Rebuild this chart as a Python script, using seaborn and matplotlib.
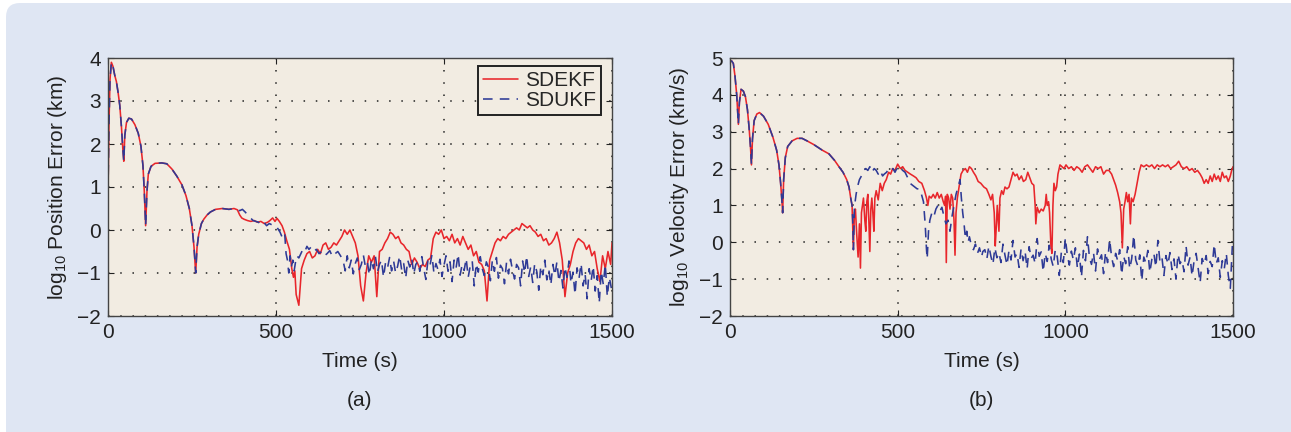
import numpy as np
import pandas as pd
import matplotlib
matplotlib.use("Agg")
import matplotlib.pyplot as plt
import matplotlib.patches as mpatches
from matplotlib.transforms import IdentityTransform
import seaborn as sns

# ---------------- data ----------------
# Panel (a): log10 position error
a_shared_t = [0, 3, 6, 10, 15, 20, 25, 30, 35, 40, 44, 47, 50, 55, 62, 70, 80, 90, 98, 104,
              108, 112, 116, 120, 128, 140, 160, 175, 190, 205, 220, 232, 242, 250, 256, 261,
              265, 270, 278, 285, 295, 305, 320, 340, 360, 375, 385]
a_shared_v = [0.9, 2.5, 3.5, 3.9, 3.8, 3.6, 3.45, 3.2, 2.9, 2.4, 1.9, 1.6, 2.2, 2.5, 2.6, 2.58,
              2.45, 2.25, 1.95, 1.5, 0.9, 0.1, 0.9, 1.3, 1.48, 1.55, 1.56, 1.54, 1.42, 1.25, 1.05,
              0.8, 0.5, 0.1, -0.4, -1.0, -0.4, -0.1, 0.15, 0.25, 0.35, 0.42, 0.48, 0.5, 0.48,
              0.5, 0.47]

ekf_a_t = [392, 398, 405, 415, 425, 435, 445, 455, 465, 475, 482, 490, 497, 503, 510, 518,
           525, 532, 540, 547, 552, 556,
           560, 568, 576, 584, 592, 600, 608, 616, 624, 632, 640, 648, 656, 664, 672, 680,
           688, 696, 704, 712, 720, 728, 736, 744, 752, 760, 768, 776, 784, 792, 800, 808,
           816, 824, 832, 840, 848, 856, 864, 872, 880, 888, 896, 904, 912, 920, 928, 936,
           944, 952, 960, 968, 976, 984, 992, 1000, 1008, 1016, 1024, 1032, 1040, 1048, 1056,
           1064, 1072, 1080, 1088, 1096, 1104, 1112, 1120, 1128, 1136, 1144, 1152, 1160, 1168,
           1176, 1184, 1192, 1200, 1208, 1216, 1224, 1232, 1240, 1248, 1256, 1264, 1272, 1280,
           1288, 1296, 1304, 1312, 1320, 1328, 1336, 1344, 1352, 1360, 1368, 1376, 1384, 1392,
           1400, 1408, 1416, 1424, 1432, 1440, 1448, 1456, 1464, 1472, 1480, 1488, 1496, 1500]
ekf_a_v = [0.35, 0.28, 0.25, 0.22, 0.2, 0.22, 0.18, 0.2, 0.15, 0.18, 0.22, 0.28, 0.2, 0.27,
           0.2, 0.1, -0.05, -0.25, -0.45, -0.9, -1.1, -0.95,
           -1.5, -1.75, -0.9, -0.7, -0.55, -0.5, -0.65, -0.6, -0.45, -0.55, -0.35, -0.3, -0.45,
           -0.4, -0.3, -0.35, -0.25, -0.15, 0.0, -0.1, 0.0, -0.15, -0.3, -0.6, -1.3, -1.65,
           -1.0, -0.6, -0.75, -0.6, -1.55, -0.5, -0.45, -0.3, -0.2, -0.05, -0.1, -0.2, -0.15,
           -0.3, -0.35, -0.45, -0.5, -0.8, -0.65, -0.75, -0.9, -0.8, -0.85, -0.7, -0.65, -0.2,
           -0.05, -0.1, 0.0, -0.2, -0.15, -0.25, -0.1, -0.3, -0.2, -0.35, -0.15, -0.3, -0.45,
           -0.35, -0.6, -0.5, -0.75, -0.8, -0.95, -1.65, -0.7, -0.5, -0.3, -0.2, -0.25, -0.15,
           -0.2, -0.1, -0.05, 0.0, 0.05, 0.0, 0.15, 0.1, 0.05, 0.1, 0.0, -0.05, -0.15, -0.1,
           -0.25, -0.2, -0.35, -0.3, -0.2, -0.05, -0.3, -0.7, -1.55, -1.0, -0.8, -0.5, -0.3,
           -0.2, -0.25, -0.3, -0.45, -0.35, -0.6, -0.5, -0.9, -1.2, -0.6, -0.9, -0.5, -0.8, -0.3]

ukf_a_t = [392, 400, 408, 416, 424, 432, 440, 448, 456, 464, 472, 480, 488, 496, 504, 512,
           520, 526, 530, 534, 538, 542, 546, 550, 554, 558, 562, 568, 574, 580, 586, 592,
           598, 604, 612, 620, 628, 636, 644, 652, 660, 668, 676, 684, 692]
ukf_a_v = [0.45, 0.48, 0.42, 0.35, 0.28, 0.22, 0.2, 0.18, 0.12, 0.18, 0.1, 0.15, 0.12, 0.05,
           0.05, -0.05, -0.2, -0.1, -0.55, -0.7, -1.0, -0.6, -0.85, -0.7, -0.95, -0.75, -0.6,
           -0.65, -0.55, -0.45, -0.5, -0.38, -0.45, -0.4, -0.5, -0.45, -0.55, -0.5, -0.6,
           -0.55, -0.48, -0.62, -0.55, -0.5, -0.6]
# SDUKF, t = 700 .. 1498 every 6 s
ukf_a_tail = [
    -0.72, -0.95, -0.60, -0.88, -0.70, -1.02, -0.78, -0.65, -0.92, -0.80,
    -0.58, -0.85, -0.75, -1.05, -0.68, -0.90, -0.62, -0.98, -0.80, -0.70,
    -1.10, -0.76, -0.88, -0.64, -0.95, -0.72, -1.00, -0.84, -0.60, -0.93,
    -0.78, -1.12, -0.70, -0.86, -0.66, -1.02, -0.80, -0.74, -0.96, -0.62,
    -0.90, -1.15, -0.72, -0.84, -0.58, -1.00, -0.78, -0.92, -0.68, -1.08,
    -0.82, -0.60, -0.96, -0.74, -1.20, -0.70, -0.88, -0.56, -1.05, -0.80,
    -0.94, -0.66, -1.10, -0.84, -0.72, -1.30, -0.78, -0.98, -0.62, -0.90,
    -1.06, -0.74, -0.86, -1.18, -0.70, -0.96, -0.64, -1.12, -0.82, -0.90,
    -1.25, -0.76, -1.02, -0.68, -0.94, -1.14, -0.80, -0.88, -1.30, -0.72,
    -1.00, -0.60, -1.08, -0.86, -1.22, -0.78, -0.96, -1.40, -0.84, -1.04,
    -0.70, -1.16, -0.92, -1.28, -0.80, -1.06, -0.74, -1.20, -0.94, -1.35,
    -0.86, -1.10, -0.72, -1.24, -0.98, -1.50, -0.88, -1.12, -0.78, -1.30,
    -1.02, -1.60, -0.90, -1.18, -0.84, -1.42, -1.06, -1.70, -0.96, -1.26,
    -0.80, -1.55, -1.10, -1.35]

# Panel (b): log10 velocity error
b_shared_t = [0, 5, 10, 15, 20, 23, 25, 28, 33, 40, 46, 52, 57, 61, 64, 67, 72, 80, 88, 100,
              114, 128, 139, 146, 151, 155, 157, 160, 165, 172, 185, 200, 215, 230, 250, 275,
              295, 312, 325, 337, 348, 355, 360, 364]
b_shared_v = [4.9, 4.92, 4.85, 4.5, 4.0, 3.5, 3.2, 3.8, 4.15, 4.1, 3.95, 3.6, 3.1, 2.6, 2.1,
              2.8, 3.3, 3.48, 3.52, 3.42, 3.2, 2.85, 2.5, 2.1, 1.6, 1.1, 0.8, 1.7, 2.3, 2.6,
              2.75, 2.82, 2.82, 2.75, 2.65, 2.5, 2.4, 2.22, 2.05, 1.9, 1.7, 1.5, 1.2, 1.0]

ekf_b_t = [368, 371, 374, 378, 382, 386, 389, 392, 398, 402, 405, 408, 411, 414, 417, 420,
           423, 426, 429, 432, 436, 442, 448, 454, 460, 466, 473, 479, 485, 492, 500, 508,
           515, 522, 530, 538, 547, 555, 563, 572, 580, 586, 590, 594, 600, 606, 612, 618,
           624, 630, 636, 640, 643, 645, 648, 652, 656, 660, 664, 668, 671, 674, 678, 683,
           689, 695, 702, 708, 714, 720, 726, 733, 740, 748, 757, 765, 772, 778, 783, 788,
           791, 794, 797, 802, 805, 810, 815, 820, 826, 832, 838, 844, 850, 856, 862, 869,
           875, 882, 888, 894, 900, 906, 910, 912, 916, 922, 928, 934, 940, 943, 946, 950,
           953, 957, 960, 963, 966, 970, 974, 978, 984, 990, 996, 1002, 1010, 1018, 1026,
           1034, 1042, 1050, 1058, 1066, 1074, 1082, 1090, 1098, 1106, 1114, 1122, 1130,
           1138, 1144, 1150, 1156, 1162, 1166, 1170, 1174, 1178, 1182, 1186, 1190, 1194,
           1197, 1202, 1208, 1214, 1220, 1226, 1234, 1242, 1250, 1258, 1266, 1274, 1282,
           1290, 1298, 1306, 1314, 1322, 1330, 1338, 1346, 1354, 1362, 1370, 1378, 1386,
           1394, 1402, 1408, 1414, 1420, 1426, 1432, 1438, 1444, 1450, 1456, 1462, 1468,
           1474, 1480, 1486, 1492, 1496, 1500]
ekf_b_v = [-0.2, 0.8, 0.9, 0.2, -0.4, 0.5, -0.7, 0.8, 1.2, 0.6, 0.3, 1.1, 1.3, 0.6, -0.25,
           0.9, 1.2, 0.8, 0.3, 1.2, 1.4, 1.15, 1.6, 1.4, 1.6, 1.7, 1.9, 1.85, 2.0, 1.95, 2.12,
           2.0, 2.05, 1.95, 1.9, 1.85, 1.8, 1.75, 1.65, 1.6, 1.4, 1.2, 1.0, 1.25, 1.2, 1.3,
           1.2, 1.35, 1.2, 1.3, 1.1, 1.0, 1.25, -0.55, 1.3, 1.2, 0.9, 1.3, 1.2, 0.6, -0.35,
           0.8, 1.2, 1.5, 1.85, 1.95, 2.0, 1.9, 2.05, 2.0, 1.9, 1.8, 1.65, 1.6, 1.5, 1.45,
           1.3, 1.15, 1.3, 0.8, -0.1, 0.4, 1.0, 0.3, 1.2, 1.4, 1.3, 1.5, 1.45, 1.5, 1.7, 1.9,
           1.8, 1.85, 1.7, 1.8, 1.65, 1.7, 1.9, 1.75, 1.6, 1.55, 1.0, 0.5, 0.95, 0.8, 0.9,
           0.85, 1.0, 1.3, 1.0, 1.1, 0.8, -0.1, -0.3, 1.0, 1.6, 1.4, 1.5, 1.85, 2.1, 2.05,
           2.0, 2.1, 2.0, 2.05, 1.95, 2.05, 2.0, 1.9, 2.05, 2.1, 2.0, 1.9, 2.05, 2.0, 2.05,
           1.85, 1.95, 1.95, 1.85, 1.7, 1.55, 1.35, 1.1, 0.8, -0.15, 0.9, 1.1, 1.35, 1.1, 1.3,
           0.5, 1.2, 1.1, 1.3, 1.6, 1.9, 2.1, 2.05, 2.1, 2.05, 2.1, 2.0, 2.1, 2.05, 2.1, 2.05,
           2.1, 2.0, 2.05, 2.1, 2.2, 2.05, 2.0, 2.05, 1.95, 2.0, 1.9, 1.95, 1.85, 1.75, 1.6,
           1.7, 1.6, 1.8, 1.65, 1.85, 1.7, 1.8, 1.65, 1.9, 1.75, 1.8, 1.65, 1.8, 1.95, 2.05]

ukf_b_t = [366, 368, 371, 376, 380, 386, 392, 398, 405, 411, 417, 423, 430, 436, 442, 448,
           455, 460, 467, 473, 480, 486, 492, 500, 508, 515, 522, 530, 537, 544, 551, 558,
           565, 571, 577, 582, 586, 588, 592, 596, 602, 608, 614, 620, 626, 632, 638, 644,
           650, 656, 662, 668, 674, 680, 686, 690, 694, 698, 702, 706, 710, 714, 720, 726,
           732, 738, 744, 750, 754]
ukf_b_v = [0.6, -0.2, 0.95, 1.3, 1.5, 1.7, 1.8, 1.95, 2.0, 1.95, 2.05, 1.9, 2.0, 1.95, 1.85,
           1.95, 1.8, 1.85, 1.9, 2.0, 1.95, 2.0, 1.9, 2.05, 2.0, 1.95, 1.9, 1.75, 1.6, 1.55,
           1.5, 1.45, 1.45, 1.3, 1.1, 0.5, -0.2, -0.45, 0.3, 0.6, 0.8, 0.7, 0.9, 1.0, 0.85,
           0.95, 0.7, 0.5, 0.6, 0.3, 0.7, 1.0, 1.3, 1.5, 1.7, 1.2, 0.8, 0.5, 0.1, 0.3, 0.0,
           0.15, -0.1, -0.2, -0.05, -0.3, -0.15, -0.4, -0.25]
# SDUKF, t = 760 .. 1498 every 6 s
ukf_b_tail = [
    -0.20, -0.45, -0.10, -0.38, -0.60, -0.15, -0.42, -0.28, -0.55, -0.05,
    -0.35, -0.62, -0.22, -0.48, 0.05, -0.40, -0.30, -0.68, -0.18, -0.50,
    -0.25, -0.72, -0.12, -0.44, -0.35, -0.58, 0.10, -0.38, -0.26, -0.80,
    -0.30, -0.52, -0.08, -0.46, -0.66, -0.20, -0.40, -0.90, -0.28, -0.55,
    0.12, -0.36, -0.62, -0.24, -0.48, -0.15, -0.70, -0.32, -0.95, -0.22,
    -0.50, 0.15, -0.42, -0.60, -0.28, -0.78, -0.18, -0.46, -0.34, -0.85,
    -0.26, -0.55, 0.08, -0.40, -0.66, -0.30, -0.50, -0.20, -0.88, -0.38,
    -0.58, -0.12, -0.72, -0.44, 0.20, -0.48, -0.64, -0.34, -1.05, -0.40,
    -0.56, -0.22, -0.82, -0.46, -0.30, -0.68, 0.05, -0.52, -0.40, -0.90,
    -0.36, -0.60, -0.28, -0.74, -0.45, -1.00, -0.32, -0.58, -0.48, -0.80,
    -0.10, -0.62, -0.40, -0.92, -0.50, -0.30, -0.70, -1.10, -0.44, -0.60,
    -0.36, -0.85, -0.52, -0.66, -0.05, -0.58, -0.42, -0.95, -0.50, -0.72,
    -0.30, -0.90, -1.25, -0.10]

series_names = ["SDEKF", "SDUKF"]
x_ticks = [0, 500, 1000, 1500]
ya_ticks = [-2, -1, 0, 1, 2, 3, 4]
yb_ticks = [-2, -1, 0, 1, 2, 3, 4, 5]


def build(shared_t, shared_v, ekf_t, ekf_v, ukf_t, ukf_v, tail_start, tail):
    tail_t = list(range(tail_start, tail_start + 6 * len(tail), 6))
    et = list(shared_t) + list(ekf_t)
    ev = list(shared_v) + list(ekf_v)
    ut = list(shared_t) + list(ukf_t) + tail_t
    uv = list(shared_v) + list(ukf_v) + list(tail)
    n1 = min(len(et), len(ev)); n2 = min(len(ut), len(uv))
    df1 = pd.DataFrame({"t": et[:n1], "v": ev[:n1], "Filter": series_names[0]})
    df2 = pd.DataFrame({"t": ut[:n2], "v": uv[:n2], "Filter": series_names[1]})
    return pd.concat([df1, df2], ignore_index=True)


df_a = build(a_shared_t, a_shared_v, ekf_a_t, ekf_a_v, ukf_a_t, ukf_a_v, 700, ukf_a_tail)
df_b = build(b_shared_t, b_shared_v, ekf_b_t, ekf_b_v, ukf_b_t, ukf_b_v, 760, ukf_b_tail)

# ---------------- style ----------------
sns.set_theme(style="ticks")
plt.rcParams["font.family"] = ["Liberation Sans", "DejaVu Sans"]
plt.rcParams["mathtext.fontset"] = "custom"
plt.rcParams["mathtext.rm"] = "Liberation Sans"
plt.rcParams["axes.unicode_minus"] = True

RED = "#e8262b"
BLUE = "#2e3a96"
AX_BG = "#f2ece2"
FIG_BG = "#dfe6f3"
TXT = "#222222"
FS = 15
palette = {"SDEKF": RED, "SDUKF": BLUE}
dashes = {"SDEKF": "", "SDUKF": (6, 4.5)}

W, H = 1291, 432
fig = plt.figure(figsize=(W / 100, H / 100), dpi=100)
fig.patch.set_facecolor("white")
bg = mpatches.FancyBboxPatch((6, -30), W + 40, H - 3 + 30,
                             boxstyle="round,pad=0,rounding_size=14",
                             transform=IdentityTransform(), facecolor=FIG_BG,
                             edgecolor="none", zorder=-10)
fig.patches.append(bg)


def px_axes(left, top, right, bottom):
    return fig.add_axes([left / W, 1 - bottom / H, (right - left) / W, (bottom - top) / H])


ax_a = px_axes(108, 58, 612, 316)
ax_b = px_axes(730, 58, 1233, 316)

for ax, df, yt, ylab, panel, cx in [
        (ax_a, df_a, ya_ticks, r"log$_{\mathregular{10}}$ Position Error (km)", "(a)", 360),
        (ax_b, df_b, yb_ticks, r"log$_{\mathregular{10}}$ Velocity Error (km/s)", "(b)", 981)]:
    sns.lineplot(data=df, x="t", y="v", hue="Filter", style="Filter", palette=palette,
                 dashes=dashes, estimator=None, sort=False, linewidth=1.15, ax=ax,
                 legend=(ax is ax_a))
    ax.set_facecolor(AX_BG)
    ax.set_xlim(0, 1500)
    ax.set_ylim(yt[0], yt[-1])
    ax.set_xticks(x_ticks)
    ax.set_yticks(yt)
    ax.grid(True, color="#222222", linestyle=(0, (1, 7)), linewidth=1.1)
    ax.tick_params(direction="in", length=4, width=0.8, top=True, right=True,
                   labelsize=FS, colors=TXT, pad=5)
    for s in ax.spines.values():
        s.set_color("#444444")
        s.set_linewidth(1.0)
    ax.set_xlabel("Time (s)", fontsize=FS, color=TXT, labelpad=7)
    ax.set_ylabel(ylab, fontsize=FS, color=TXT, labelpad=6)
    fig.text(cx / W, 1 - 401 / H, panel, ha="center", va="center", fontsize=FS,
             color=TXT)

leg = ax_a.legend(loc="upper right", bbox_to_anchor=(0.978, 0.969), fontsize=FS,
                  frameon=True, fancybox=False, framealpha=1, edgecolor="#222222",
                  facecolor=AX_BG, handlelength=1.7, handletextpad=0.3,
                  borderpad=0.25, labelspacing=0.05, borderaxespad=0.0)
leg.get_frame().set_linewidth(1.4)
leg.set_title(None)

fig.savefig("out.png", dpi=100, facecolor=fig.get_facecolor())
